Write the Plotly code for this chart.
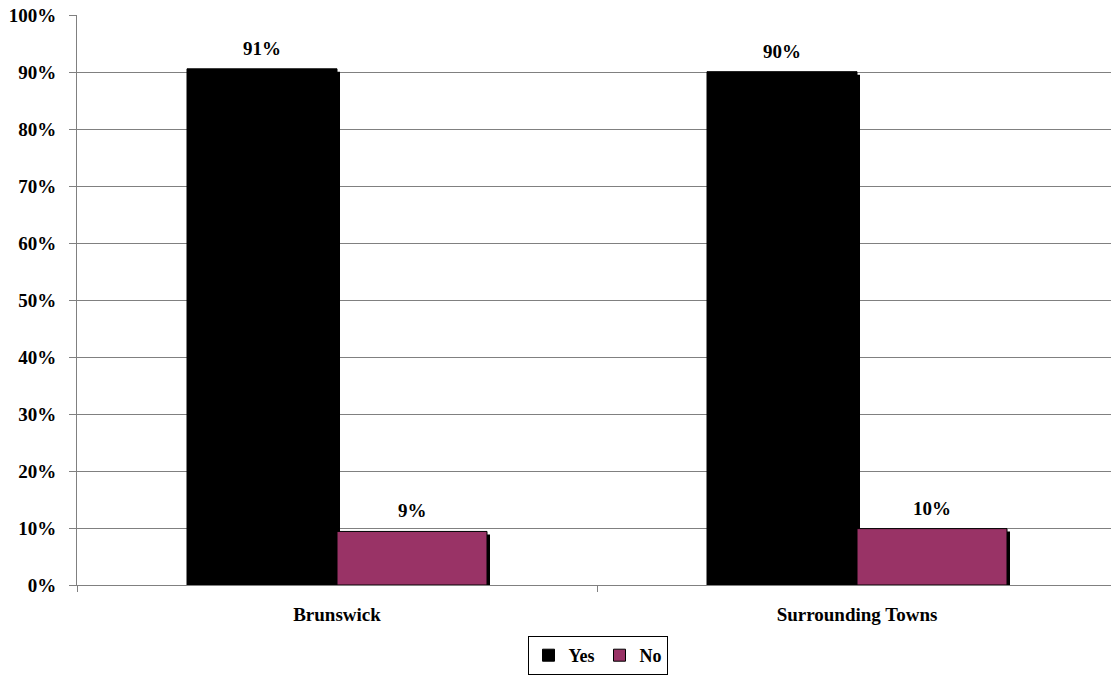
import plotly.graph_objects as go

categories = ["Brunswick", "Surrounding Towns"]
yes_values = [90.6, 90.1]
no_values = [9.4, 9.9]
yes_labels = ["91%", "90%"]
no_labels = ["9%", "10%"]
y_ticks = list(range(0, 101, 10))
y_tick_labels = [f"{v}%" for v in y_ticks]

FONT = "Liberation Serif, Times New Roman, serif"
W, H = 1111, 677
ML, MR, MT = 77, 0, 15
MB = H - 585
plot_w = W - ML - MR
plot_h = H - MT - MB
cat_px = 520.0
x_span = plot_w / cat_px
x_range = [-0.5, -0.5 + x_span]
y_range = [0, 100.05]
bar_w = 150 / cat_px
sh_px = 3
dx = sh_px / cat_px
dy = sh_px * 100.0 / plot_h

fig = go.Figure()

# shadows (drawn first, underneath)
for vals, off in ((yes_values, -bar_w), (no_values, 0.0)):
    fig.add_trace(go.Bar(x=categories, y=vals, base=[-dy] * len(vals),
                         width=bar_w, offset=off + dx,
                         marker=dict(color="black", line=dict(width=0)),
                         showlegend=False, hoverinfo="skip"))

fig.add_trace(go.Bar(x=categories, y=yes_values, name="<b>Yes</b>", width=bar_w, offset=-bar_w,
                     marker=dict(color="#000000", line=dict(color="#000000", width=1))))
fig.add_trace(go.Bar(x=categories, y=no_values, name="<b>No</b>", width=bar_w, offset=0.0,
                     marker=dict(color="#993366", line=dict(color="#000000", width=1))))

annotations = []
for i, c in enumerate(categories):
    for vals, labs, shift in ((yes_values, yes_labels, -75), (no_values, no_labels, 75)):
        annotations.append(dict(x=c, y=vals[i], text=f"<b>{labs[i]}</b>", showarrow=False,
                                xref="x", yref="y", xshift=shift, yanchor="bottom", yshift=8,
                                font=dict(family=FONT, size=19, color="black")))

fig.update_layout(
    width=W, height=H,
    margin=dict(l=ML, r=MR, t=MT, b=MB, pad=0, autoexpand=False),
    paper_bgcolor="white", plot_bgcolor="white",
    barmode="overlay",
    font=dict(family=FONT, size=19, color="black"),
    xaxis=dict(range=x_range, showline=True, linecolor="#808080", linewidth=1,
               ticks="outside", tickson="boundaries", ticklen=6, tickcolor="#808080",
               tickfont=dict(family=FONT, size=19), ticklabelstandoff=12,
               tickvals=categories, ticktext=[f"<b>{c}</b>" for c in categories],
               showgrid=False, zeroline=False),
    yaxis=dict(range=y_range, tickvals=y_ticks, ticktext=[f"<b>{t}</b>" for t in y_tick_labels],
               showline=True, linecolor="#808080", linewidth=1, ticks="outside", ticklen=7,
               tickcolor="#808080", showgrid=True, gridcolor="#808080", gridwidth=1,
               zeroline=False, ticklabelstandoff=9, ticklabeloverflow="allow",
               tickfont=dict(family=FONT, size=19)),
    legend=dict(orientation="h", x=(597.5 - ML) / plot_w, xanchor="center",
                y=-(675 - (MT + plot_h)) / plot_h, yanchor="bottom",
                bordercolor="black", borderwidth=1, bgcolor="white",
                font=dict(family=FONT, size=18), itemwidth=30, tracegroupgap=0),
    annotations=annotations,
)

fig.write_html("out.html", config={"displayModeBar": False},
               post_script="document.body.style.margin='0';")
